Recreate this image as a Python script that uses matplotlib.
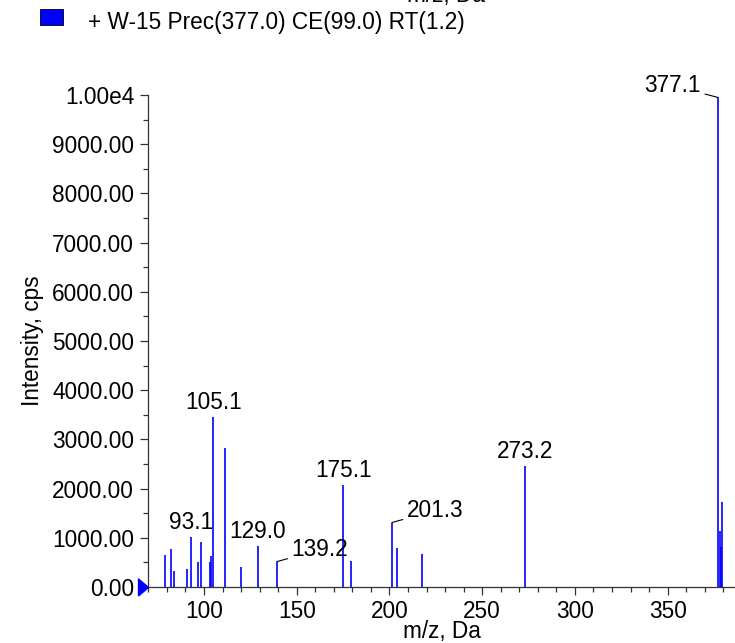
import matplotlib
matplotlib.use("Agg")
from matplotlib import pyplot as plt
from matplotlib.path import Path
from matplotlib.patches import Rectangle
from matplotlib.ticker import FuncFormatter, MultipleLocator

plt.rcParams["font.family"] = ["Liberation Sans", "DejaVu Sans"]
plt.rcParams["font.size"] = 16.3

# spectrum peaks (m/z, intensity in cps)
mz = [79.0, 82.0, 84.0, 91.0, 93.1, 97.0, 98.2, 103.0, 104.0, 105.1, 111.1,
      120.0, 129.0, 139.2, 175.1, 179.2, 201.3, 204.3, 217.5, 273.2,
      377.1, 378.0, 378.5, 379.2]
intensity = [650, 770, 320, 370, 1010, 500, 920, 510, 640, 3450, 2820,
             410, 840, 515, 2070, 530, 1310, 800, 670, 2460,
             9950, 1140, 810, 1720]

# labelled peaks: (m/z, text, offset x px, offset y px, horizontal align)
labels = [
    (93.1, "93.1", 0, 3, "center"),
    (105.1, "105.1", 0, 3, "center"),
    (129.0, "129.0", 0, 3, "center"),
    (139.2, "139.2", 15, 12, "left"),
    (175.1, "175.1", 0, 3, "center"),
    (201.3, "201.3", 15, 12, "left"),
    (273.2, "273.2", 0, 3, "center"),
    (377.1, "377.1", -17, 12, "right"),
]

legend_text = "+ W-15 Prec(377.0) CE(99.0) RT(1.2)"
x_range = (69.8, 386.3)
y_range = (0, 10000)

W, H = 735, 643
fig = plt.figure(figsize=(W / 100, H / 100), dpi=100)
ax = fig.add_axes([148 / W, 1 - 587 / H, 1 - 148 / W, (587 - 95) / H])

ax.vlines(mz, 0, intensity, color="#0000ff", lw=1.2)
ax.set_xlim(*x_range)
ax.set_ylim(*y_range)

for x, txt, dx, dy, ha in labels:
    y = intensity[mz.index(x)]
    if ha == "center":
        ax.annotate(txt, (x, y), xytext=(dx, dy), textcoords="offset pixels",
                    ha="center", va="bottom")
    else:
        ax.annotate(txt, (x, y), xytext=(dx, dy), textcoords="offset pixels",
                    ha=ha, va="center",
                    arrowprops=dict(arrowstyle="-", color="black", lw=0.8,
                                    shrinkA=1, shrinkB=0))

for s in ["top", "right"]:
    ax.spines[s].set_visible(False)
for s in ["left", "bottom"]:
    ax.spines[s].set_color("#333333")
    ax.spines[s].set_linewidth(0.9)

ax.xaxis.set_major_locator(MultipleLocator(50))
ax.xaxis.set_minor_locator(MultipleLocator(10))
ax.yaxis.set_major_locator(MultipleLocator(1000))
ax.yaxis.set_minor_locator(MultipleLocator(500))
ax.yaxis.set_major_formatter(FuncFormatter(
    lambda v, p: "1.00e4" if v >= 10000 else f"{v:.2f}"))
ax.tick_params(which="major", length=6, width=0.9, color="#333333", pad=4)
ax.tick_params(axis="x", which="major", pad=3)
ax.tick_params(which="minor", length=3.5, width=0.9, color="#333333")

ax.set_xlabel("m/z, Da", labelpad=-2)
ax.set_ylabel("Intensity, cps", labelpad=6)

# zero marker on the y axis
tri = Path([(-10, -8.5), (0, 0), (-10, 8.5), (-10, -8.5)])
ax.plot([x_range[0]], [0], marker=tri, markersize=14.4, color="#0000ff",
        clip_on=False, zorder=5)

# legend swatch and title
fig.add_artist(Rectangle((40 / W, 1 - 25 / H), 23 / W, 16 / H,
                         transform=fig.transFigure, facecolor="#0000ff",
                         edgecolor="black", lw=0.6))
fig.text(88 / W, 1 - 22 / H, legend_text, va="center", ha="left")
# axis title of the panel above, cut by the top edge as in the reference
fig.text(446 / W, 1 - 2 / H, "m/z, Da", va="baseline", ha="center")

plt.savefig("out.png", dpi=100)
